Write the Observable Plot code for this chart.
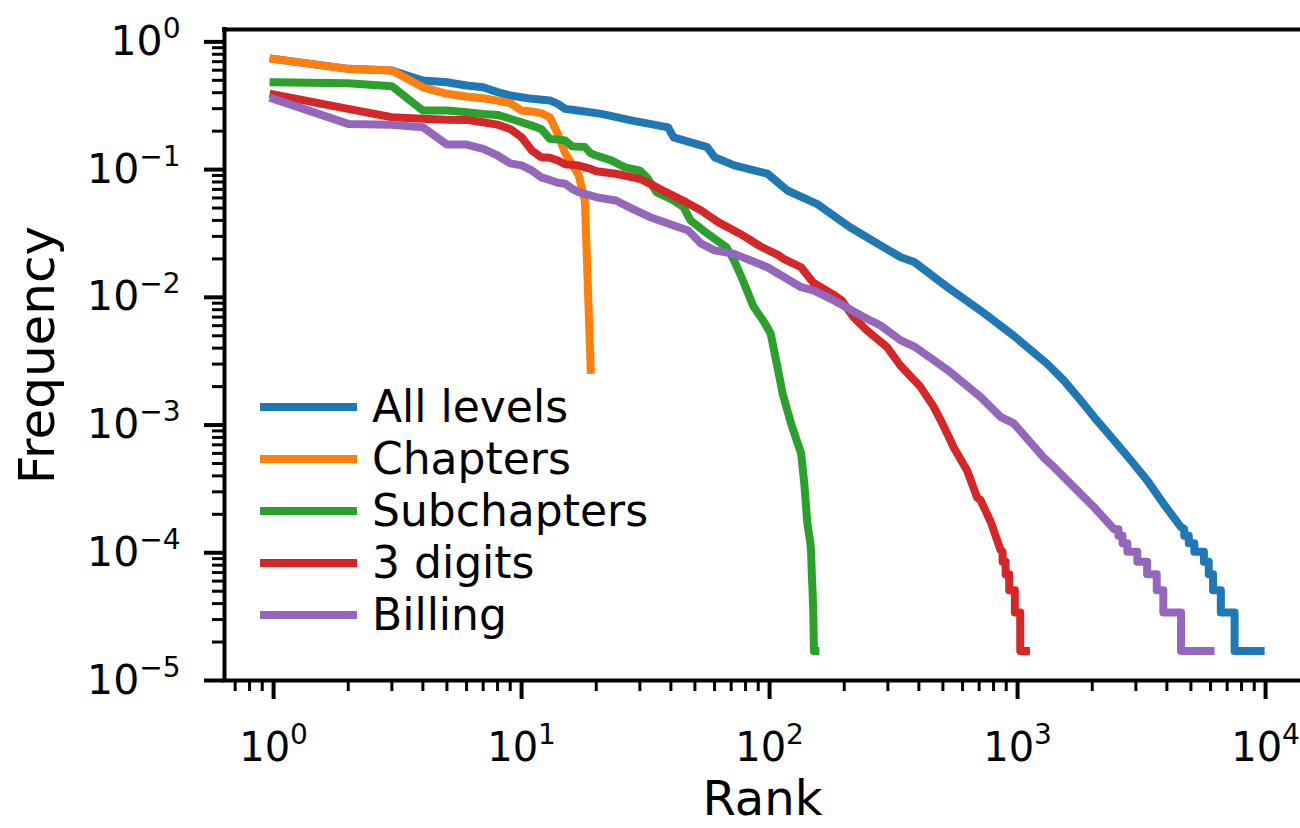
<!DOCTYPE html>
<html>
<head>
<meta charset="utf-8">
<script src="https://cdn.jsdelivr.net/npm/d3@7"></script>
<script src="https://cdn.jsdelivr.net/npm/@observablehq/plot@0.6"></script>
<style>
  html, body { margin: 0; padding: 0; background: #fff; }
  #wrap { position: relative; width: 1300px; height: 828px; overflow: hidden; font-family: "DejaVu Sans", sans-serif; }
  #legend { position: absolute; left: 260px; top: 381px; }
  .row { display: flex; align-items: center; height: 52px; line-height: 52px; }
  .sw { width: 97px; height: 8px; }
  .lab { margin-left: 15px; font-size: 44px; color: #000; white-space: nowrap; }
</style>
</head>
<body>
<div id="wrap"><div id="legend"></div></div>
<script>
// ---- data ----
const seriesNames = ["All levels", "Chapters", "Subchapters", "3 digits", "Billing"];
const seriesColors = ["#1f77b4", "#ff7f0e", "#2ca02c", "#d62728", "#9467bd"];

const allRank = [1,2,3,4,5,6,7,8,9,10,11,13,14,15,16,21,28,39,41,56,60,72,98,118,155,211,281,338,383,522,708,965,1316,1535,1796,2031,2449,2860,3330,3870,4560,4700,4700,4900,4900,5160,5160,5640,5640,5900,5900,6140,6140,6600,6600,7500,7500,9550];
const allFreq = [0.736,0.615,0.596,0.498,0.483,0.455,0.441,0.404,0.38,0.369,0.358,0.348,0.327,0.299,0.294,0.273,0.242,0.214,0.179,0.15,0.125,0.108,0.093,0.0686,0.054,0.0354,0.0254,0.0206,0.0189,0.012,0.0079,0.005,0.00302,0.00224,0.00156,0.00116,0.00076,0.00053,0.000369,0.000243,0.000159,0.000153,0.000136,0.000136,0.000119,0.000119,0.000102,0.000102,0.000085,0.000085,0.000068,0.000068,0.000051,0.000051,0.000034,0.000034,0.000017,0.000017];

const chapRank = [1,2,3,4,5,6,7,8,9,10,11,12,13,14,15,16,17,18,19];
const chapFreq = [0.736,0.615,0.596,0.441,0.392,0.373,0.362,0.347,0.331,0.29,0.285,0.277,0.257,0.19,0.134,0.11,0.09,0.057,0.0027];

const subRank = [1,2,3,4,5,6,7,8,9,10,11,12,13,14,15,16,18,19,20,23,26,30,32,35,41,45,48,54,67,72,78,86,95,101,107,113,122,134,138,142,146,147,148,149,150,151,153];
const subFreq = [0.483,0.474,0.45,0.29,0.29,0.281,0.273,0.268,0.25,0.235,0.221,0.208,0.174,0.172,0.169,0.152,0.15,0.134,0.129,0.118,0.1045,0.098,0.087,0.0666,0.0573,0.0508,0.04,0.0334,0.0247,0.0194,0.0136,0.0085,0.0064,0.0052,0.003,0.00175,0.00103,0.0006,0.00035,0.00017,0.000119,0.000102,0.000068,0.000051,0.000034,0.000017,0.000017];

const digRank = [1,2,3,4,5,6,7,8,9,10,11,12,13,14,15,17,19,20,24,30,33,36,46,53,62,76,92,108,114,134,150,181,195,218,247,297,338,405,458,490,536,552,626,687,708,779,854,870,870,895,895,925,925,975,975,1025,1025,1080];
const digFreq = [0.387,0.299,0.257,0.25,0.246,0.245,0.235,0.225,0.208,0.179,0.141,0.125,0.124,0.118,0.11,0.1076,0.1014,0.0971,0.0928,0.0848,0.0774,0.0707,0.0556,0.0479,0.0388,0.0315,0.025,0.0215,0.02,0.0172,0.013,0.0105,0.0095,0.007,0.0055,0.0041,0.0029,0.002,0.0014,0.00109,0.00076,0.00067,0.00044,0.00027,0.00026,0.000175,0.000105,0.000102,0.000085,0.000085,0.000068,0.000068,0.000051,0.000051,0.000034,0.000034,0.000017,0.000017];

const billRank = [1,2,3,4,5,6,7,8,9,10,11,12,13,14,15,16,17,20,24,28,33,47,53,60,72,98,134,151,181,247,281,338,385,522,708,854,965,1270,1399,2031,2450,2550,2550,2650,2650,2770,2770,3040,3040,3330,3330,3640,3640,3870,3870,4560,4560,6000];
const billFreq = [0.358,0.228,0.224,0.215,0.157,0.157,0.1455,0.129,0.112,0.108,0.0984,0.087,0.083,0.0788,0.0774,0.0707,0.0666,0.0608,0.0573,0.0493,0.0424,0.0334,0.0263,0.0233,0.0219,0.0172,0.012,0.0113,0.0095,0.0068,0.006,0.0046,0.0041,0.0027,0.00166,0.00116,0.00103,0.00056,0.00047,0.000228,0.000153,0.000153,0.000136,0.000136,0.000119,0.000119,0.000102,0.000102,0.000085,0.000085,0.000068,0.000068,0.000051,0.000051,0.000034,0.000034,0.000017,0.000017];

const xTicks = [1, 10, 100, 1000, 10000];
const yTicks = [1, 1e-1, 1e-2, 1e-3, 1e-4, 1e-5];
const xLabel = "Rank";
const yLabel = "Frequency";

// ---- build ----
const xDomain = [0.634, 13830];
const yDomain = [1e-5, 1.25];

const series = [
  {name: seriesNames[0], rank: allRank, freq: allFreq},
  {name: seriesNames[1], rank: chapRank, freq: chapFreq},
  {name: seriesNames[2], rank: subRank, freq: subFreq},
  {name: seriesNames[3], rank: digRank, freq: digFreq},
  {name: seriesNames[4], rank: billRank, freq: billFreq}
];
const rows = series.flatMap(s => s.rank.map((r, i) => ({series: s.name, rank: r, freq: s.freq[i]})));

function minorTicks(domain) {
  const out = [];
  for (let e = Math.floor(Math.log10(domain[0])); e <= Math.ceil(Math.log10(domain[1])); e++) {
    for (let m = 2; m <= 9; m++) {
      const v = m * Math.pow(10, e);
      if (v >= domain[0] && v <= domain[1]) out.push(v);
    }
  }
  return out;
}
const xMinor = minorTicks(xDomain);
const yMinor = minorTicks(yDomain);

const expLabel = d => "10^" + String(Math.round(Math.log10(d))).replace("-", "\u2212");

const chart = Plot.plot({
  width: 1300,
  height: 828,
  marginLeft: 224,
  marginRight: 0,
  marginTop: 29,
  marginBottom: 148,
  style: {fontFamily: "DejaVu Sans", fontSize: "41px", background: "#fff", color: "#000", overflow: "visible"},
  x: {type: "log", domain: xDomain, axis: null, label: null},
  y: {type: "log", domain: yDomain, axis: null, label: null},
  color: {domain: seriesNames, range: seriesColors},
  marks: [
    Plot.line(rows, {x: "rank", y: "freq", z: "series", stroke: "series", strokeWidth: 8, strokeLinejoin: "round", strokeLinecap: "square"}),
    Plot.axisX(xMinor, {anchor: "bottom", tickSize: 11, strokeWidth: 3, tickFormat: () => "", label: null}),
    Plot.axisX(xTicks, {anchor: "bottom", tickSize: 19, strokeWidth: 4, tickPadding: 33, fontSize: 40, tickFormat: expLabel, label: null}),
    Plot.axisY(yMinor, {anchor: "left", tickSize: 12, strokeWidth: 3, tickFormat: () => "", label: null}),
    Plot.axisY(yTicks, {anchor: "left", tickSize: 20, strokeWidth: 4, tickPadding: 24, fontSize: 41, tickFormat: expLabel, label: null}),
    Plot.ruleY([yDomain[0], yDomain[1]], {strokeWidth: 4, strokeLinecap: "square"}),
    Plot.ruleX([xDomain[0]], {strokeWidth: 4, strokeLinecap: "square"}),
    Plot.text([xLabel], {frameAnchor: "bottom", lineAnchor: "middle", textAnchor: "middle", dy: 119, fontSize: 48}),
    Plot.text([yLabel], {frameAnchor: "left", lineAnchor: "middle", textAnchor: "middle", dx: -187, rotate: -90, fontSize: 50})
  ]
});

// superscript exponents on tick labels
const NS = "http://www.w3.org/2000/svg";
chart.querySelectorAll('g[aria-label="x-axis tick label"] text, g[aria-label="y-axis tick label"] text').forEach(t => {
  const s = t.textContent;
  if (!s.includes("^")) return;
  const [b, e] = s.split("^");
  t.textContent = b;
  const ts = document.createElementNS(NS, "tspan");
  ts.setAttribute("dy", "-17");
  ts.setAttribute("font-size", "28");
  ts.textContent = e;
  t.appendChild(ts);
});

const wrap = document.getElementById("wrap");
wrap.insertBefore(chart, wrap.firstChild);

const legend = document.getElementById("legend");
seriesNames.forEach((n, i) => {
  const row = document.createElement("div");
  row.className = "row";
  const sw = document.createElement("div");
  sw.className = "sw";
  sw.style.background = seriesColors[i];
  const lab = document.createElement("span");
  lab.className = "lab";
  lab.textContent = n;
  row.appendChild(sw);
  row.appendChild(lab);
  legend.appendChild(row);
});
</script>
</body>
</html>
